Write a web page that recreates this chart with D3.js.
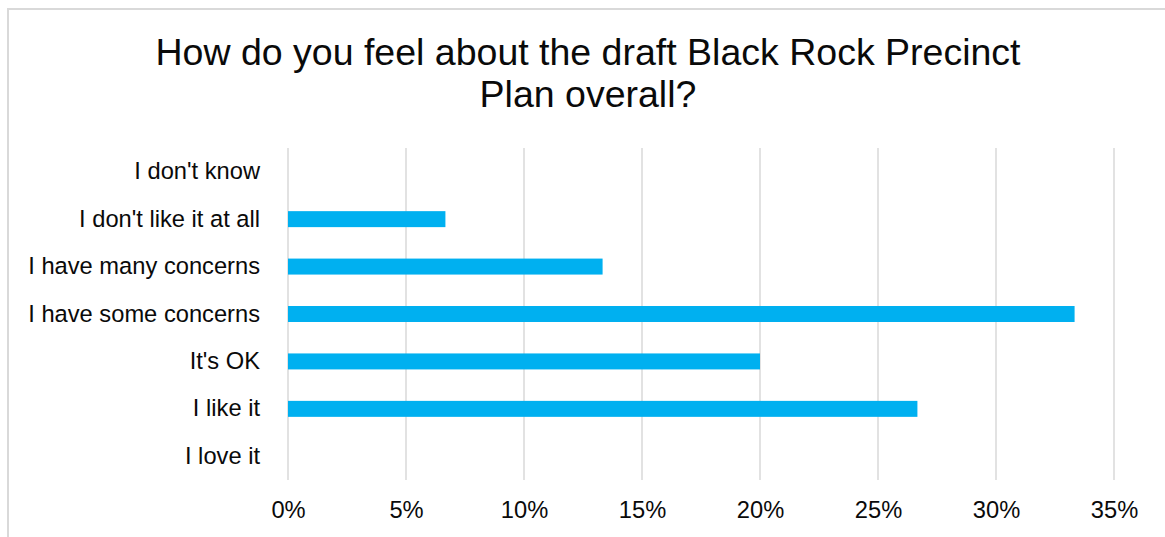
<!DOCTYPE html>
<html>
<head>
<meta charset="utf-8">
<script src="https://cdn.jsdelivr.net/npm/d3@7/dist/d3.min.js"></script>
<style>
  html, body { margin: 0; padding: 0; background: #fff; }
  svg { display: block; font-family: Arial, "Liberation Sans", Helvetica, sans-serif; }
</style>
</head>
<body>
<svg id="chart" width="1165" height="537"></svg>
<script>
// Survey responses, top row first
const categories = [
  "I don't know",
  "I don't like it at all",
  "I have many concerns",
  "I have some concerns",
  "It's OK",
  "I like it",
  "I love it"
];
const shares = [0, 6.67, 13.33, 33.33, 20, 26.67, 0]; // percent of respondents
const tickValues = [0, 5, 10, 15, 20, 25, 30, 35];
const titleLines = ["How do you feel about the draft Black Rock Precinct", "Plan overall?"];

const FONT = 'Arial, "Liberation Sans", Helvetica, sans-serif';
const svg = d3.select("#chart");
const W = 1165, H = 537;

// chart frame
svg.append("rect")
  .attr("x", 8).attr("y", 9)
  .attr("width", W + 20).attr("height", H + 20)
  .attr("fill", "#fff")
  .attr("stroke", "#d9d9d9").attr("stroke-width", 2);

const plot = { left: 288, right: 1114, top: 148, bottom: 480 };

const x = d3.scaleLinear().domain([0, 35]).range([plot.left, plot.right]);
const y = d3.scaleBand().domain(categories)
  .range([plot.top, plot.bottom])
  .paddingInner(0.663).paddingOuter(0.3315);

// title
svg.append("text")
  .attr("x", 588).attr("y", 64.5)
  .attr("text-anchor", "middle")
  .attr("font-size", 37.5)
  .attr("font-family", FONT)
  .attr("fill", "#0a0a0a")
  .selectAll("tspan").data(titleLines).join("tspan")
  .attr("x", 588)
  .attr("dy", (d, i) => i === 0 ? 0 : 42.5)
  .text(d => d);

// vertical gridlines
svg.append("g")
  .selectAll("line").data(tickValues).join("line")
  .attr("x1", d => x(d)).attr("x2", d => x(d))
  .attr("y1", plot.top).attr("y2", plot.bottom)
  .attr("stroke", "#d9d9d9").attr("stroke-width", 1.5);

// bars
svg.append("g")
  .selectAll("rect").data(categories).join("rect")
  .attr("x", x(0))
  .attr("y", d => y(d))
  .attr("width", (d, i) => x(shares[i]) - x(0))
  .attr("height", y.bandwidth())
  .attr("fill", "#00b0f0");

// category axis
const yAxis = svg.append("g")
  .attr("transform", `translate(${plot.left - 28},0)`)
  .call(d3.axisLeft(y).tickSize(0).tickPadding(0));
yAxis.select(".domain").remove();
yAxis.selectAll("text")
  .attr("font-size", 23.7).attr("fill", "#0a0a0a")
  .attr("font-family", FONT);

// value axis
const xAxis = svg.append("g")
  .attr("transform", `translate(0,${plot.bottom})`)
  .call(d3.axisBottom(x).tickValues(tickValues).tickFormat(d => d + "%").tickSize(0).tickPadding(21));
xAxis.select(".domain").remove();
xAxis.selectAll("text")
  .attr("font-size", 23.7).attr("fill", "#0a0a0a")
  .attr("font-family", FONT);
</script>
</body>
</html>
